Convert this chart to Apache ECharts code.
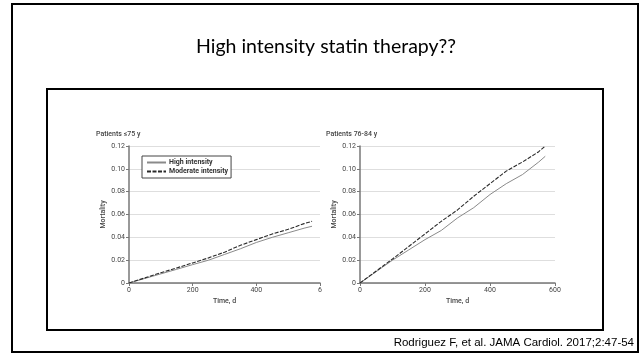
<!DOCTYPE html>
<html>
<head>
<meta charset="utf-8">
<script src="https://cdn.jsdelivr.net/npm/echarts@6/dist/echarts.min.js"></script>
<style>
  html, body { margin: 0; padding: 0; background: #fff; }
  #chart { width: 640px; height: 354px; }
</style>
</head>
<body>
<div id="chart"></div>
<script>
// Cumulative mortality by time since statin start (days)
const timeLeft = [0, 50, 100, 150, 200, 250, 300, 350, 400, 450, 500, 550, 575];
const highLeft = [0, 0.004, 0.008, 0.012, 0.0161, 0.020, 0.025, 0.030, 0.0355, 0.040, 0.044, 0.048, 0.0497];
const modLeft  = [0, 0.0045, 0.009, 0.0132, 0.0176, 0.022, 0.027, 0.033, 0.038, 0.043, 0.047, 0.052, 0.054];

const timeRight = [0, 50, 100, 150, 200, 250, 300, 350, 400, 450, 500, 550, 570];
const highRight = [0, 0.010, 0.020, 0.029, 0.038, 0.046, 0.057, 0.066, 0.0775, 0.087, 0.095, 0.106, 0.111];
const modRight  = [0, 0.0105, 0.021, 0.032, 0.043, 0.054, 0.064, 0.076, 0.087, 0.098, 0.106, 0.115, 0.120];

const panelTitles = ['Patients \u226475 y', 'Patients 76-84 y'];
const seriesNames = ['High intensity', 'Moderate intensity'];
const yTicks = { min: 0, max: 0.12, step: 0.02 };
const xTicks = { min: 0, max: 600, step: 200 };

const smallFont = 'Roboto, "Liberation Sans", sans-serif';
const pairs = (xs, ys) => xs.map((x, i) => [x, ys[i]]);

function xAxisFor(gridIndex, labelFmt) {
  return {
    type: 'value', gridIndex, min: xTicks.min, max: xTicks.max, interval: xTicks.step,
    name: 'Time, d', nameLocation: 'middle', nameGap: 15,
    nameTextStyle: { fontFamily: smallFont, fontSize: 7, color: '#444', fontWeight: 500 },
    axisLine: { show: true, lineStyle: { color: '#777', width: 1.5 } },
    axisTick: { show: true, length: 3, lineStyle: { color: '#777' } },
    axisLabel: { fontFamily: smallFont, fontSize: 7, color: '#444', margin: 4, formatter: labelFmt },
    splitLine: { show: false }
  };
}
function yAxisFor(gridIndex) {
  return {
    type: 'value', gridIndex, min: yTicks.min, max: yTicks.max, interval: yTicks.step,
    name: 'Mortality', nameLocation: 'middle', nameGap: 22,
    nameTextStyle: { fontFamily: smallFont, fontSize: 7, color: '#444', fontWeight: 500 },
    axisLine: { show: true, lineStyle: { color: '#777', width: 1.5 } },
    axisTick: { show: true, length: 3, lineStyle: { color: '#777' } },
    axisLabel: { fontFamily: smallFont, fontSize: 7, color: '#444', margin: 4,
      formatter: v => v === 0 ? '0' : v.toFixed(2) },
    splitLine: { show: true, lineStyle: { color: '#dedede', width: 1 } }
  };
}
const highStyle = { color: '#8a8a8a', width: 1, type: 'solid' };
const modStyle = { color: '#2a2a2a', width: 1.1, type: [4, 1.5] };

const chart = echarts.init(document.getElementById('chart'), null, { renderer: 'canvas' });
chart.setOption({
  backgroundColor: '#fff',
  animation: false,
  title: [
    { text: panelTitles[0], left: 91, top: 126,
      textStyle: { fontFamily: smallFont, fontSize: 7, color: '#444', fontWeight: 500 } },
    { text: panelTitles[1], left: 321, top: 126,
      textStyle: { fontFamily: smallFont, fontSize: 7, color: '#444', fontWeight: 500 } }
  ],
  graphic: [
    { type: 'rect', shape: { x: 12, y: 4, width: 626, height: 348 },
      style: { fill: 'none', stroke: '#000', lineWidth: 2 }, z: -1 },
    { type: 'rect', shape: { x: 47, y: 89, width: 556, height: 241 },
      style: { fill: 'none', stroke: '#000', lineWidth: 2 }, z: -1 },
    { type: 'text', x: 326, y: 47,
      style: { text: 'High intensity statin therapy??', fontFamily: 'Lato, "Open Sans", sans-serif',
        fontSize: 19.5, fill: '#000', textAlign: 'center', textVerticalAlign: 'middle' } },
    { type: 'text', x: 634, y: 343,
      style: { text: 'Rodriguez F, et al. JAMA Cardiol. 2017;2:47-54',
        fontFamily: '"Liberation Sans", Arial, sans-serif', fontSize: 11.5, fill: '#000',
        textAlign: 'right', textVerticalAlign: 'middle' } }
  ],
  legend: {
    data: seriesNames, orient: 'vertical', left: 142, top: 156,
    backgroundColor: '#fff', borderColor: '#444', borderWidth: 1, borderRadius: 0,
    padding: [3, 3, 3, 4], itemGap: 2, itemWidth: 19, itemHeight: 8,
    itemStyle: { opacity: 0 },
    textStyle: { fontFamily: smallFont, fontSize: 7, color: '#333', fontWeight: 'bold', padding: [0, 0, 0, -2] }
  },
  grid: [
    { left: 129, right: 320, top: 146, bottom: 71 },
    { left: 360, right: 85, top: 146, bottom: 71 }
  ],
  xAxis: [
    xAxisFor(0, v => v === 600 ? '6' : String(v)),
    xAxisFor(1, v => String(v))
  ],
  yAxis: [yAxisFor(0), yAxisFor(1)],
  series: [
    { name: seriesNames[0], type: 'line', xAxisIndex: 0, yAxisIndex: 0, data: pairs(timeLeft, highLeft),
      symbol: 'none', lineStyle: highStyle, itemStyle: { color: highStyle.color } },
    { name: seriesNames[1], type: 'line', xAxisIndex: 0, yAxisIndex: 0, data: pairs(timeLeft, modLeft),
      symbol: 'none', lineStyle: modStyle, itemStyle: { color: modStyle.color } },
    { name: seriesNames[0], type: 'line', xAxisIndex: 1, yAxisIndex: 1, data: pairs(timeRight, highRight),
      symbol: 'none', lineStyle: highStyle, itemStyle: { color: highStyle.color } },
    { name: seriesNames[1], type: 'line', xAxisIndex: 1, yAxisIndex: 1, data: pairs(timeRight, modRight),
      symbol: 'none', lineStyle: modStyle, itemStyle: { color: modStyle.color } }
  ]
});
</script>
</body>
</html>
